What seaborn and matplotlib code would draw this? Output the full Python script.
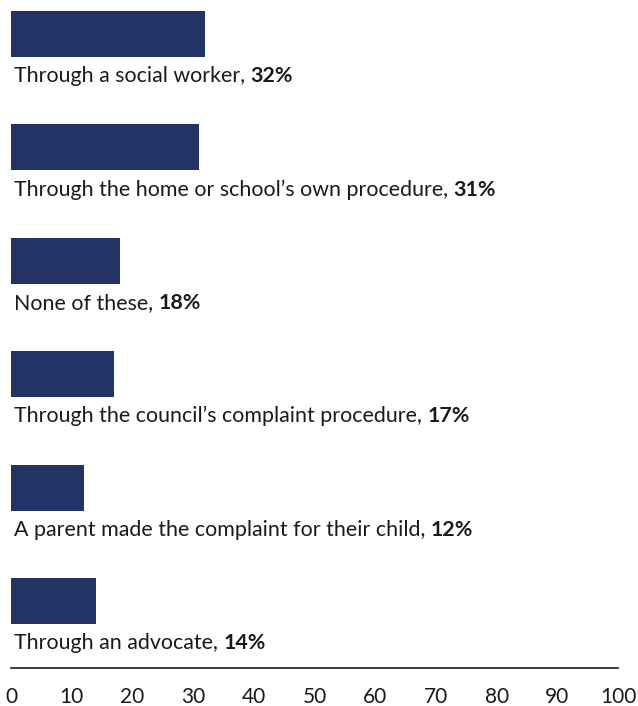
import pandas as pd
import matplotlib
matplotlib.use("Agg")
import matplotlib.pyplot as plt
import seaborn as sns

labels = [
    "Through a social worker",
    "Through the home or school\u2019s own procedure",
    "None of these",
    "Through the council\u2019s complaint procedure",
    "A parent made the complaint for their child",
    "Through an advocate",
]
values = [32, 31, 18, 17, 12, 14]
ticks = [0, 10, 20, 30, 40, 50, 60, 70, 80, 90, 100]

df = pd.DataFrame({"label": labels, "value": values})

sns.set_style("white")
plt.rcParams["font.family"] = ["Lato", "DejaVu Sans"]

fig = plt.figure(figsize=(6.38, 7.06), dpi=100)
ax = fig.add_axes([11 / 638, 38 / 706, 607 / 638, 668 / 706])

sns.barplot(data=df, x="value", y="label", orient="h", color="#243366",
            width=0.405, saturation=1, linewidth=0, ax=ax)

ax.set_xlim(0, 100)
ax.set_ylim(5.59, -0.30)
ax.set_xticks(ticks)
ax.set_yticks([])
ax.set_xlabel("")
ax.set_ylabel("")
ax.tick_params(axis="x", length=0, pad=14, labelsize=15, colors="#1a1a1a")

for s in ["top", "right", "left"]:
    ax.spines[s].set_visible(False)
ax.spines["bottom"].set_color("#1a1a1a")
ax.spines["bottom"].set_linewidth(1.2)

# labels under each bar: normal text then bold percentage
for i, (lab, v) in enumerate(zip(labels, values)):
    t = ax.text(0.5, i + 0.37, lab + ", ", fontsize=15.4, color="#1a1a1a",
                va="center", ha="left")
    ax.annotate(f"{v}%", xy=(1, 0), xycoords=t, va="bottom", ha="left",
                fontsize=15.4, fontweight="bold", color="#1a1a1a")

fig.savefig("out.png", dpi=100)
